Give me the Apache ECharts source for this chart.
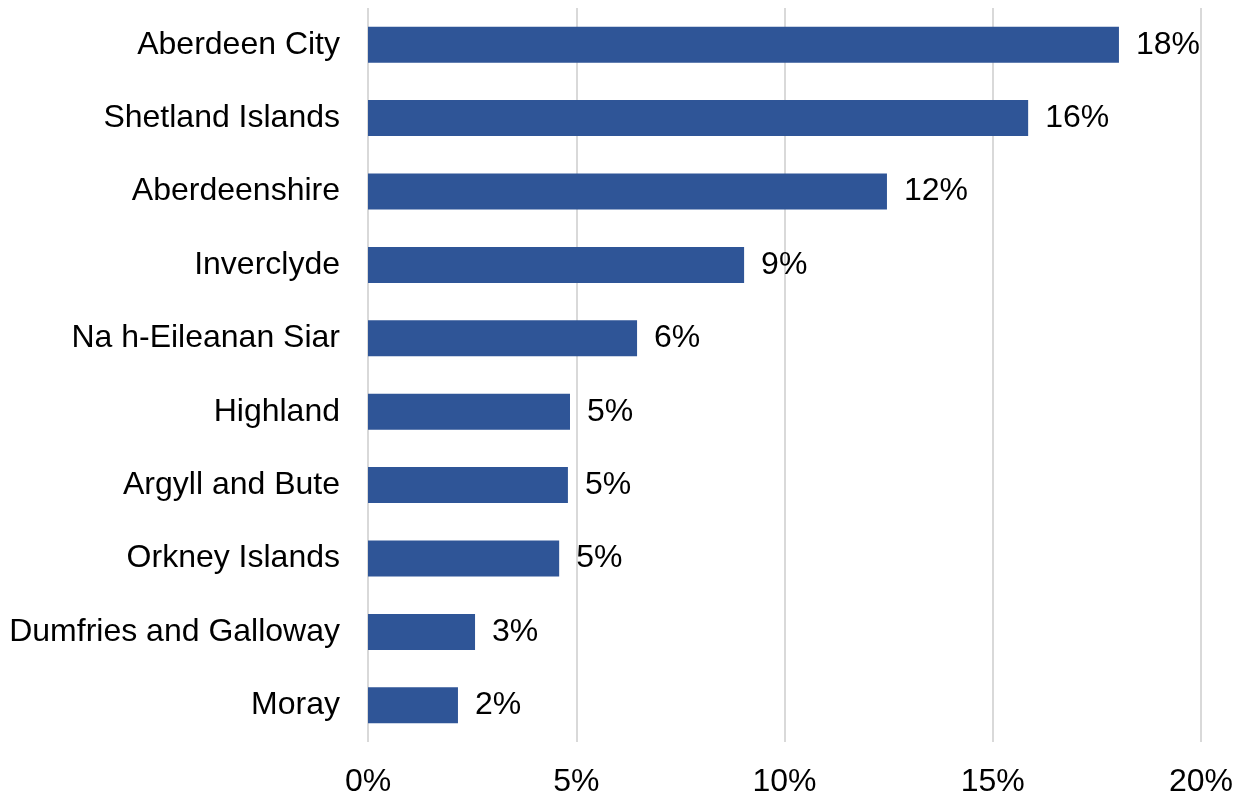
<!DOCTYPE html>
<html>
<head>
<meta charset="utf-8">
<script src="https://cdn.jsdelivr.net/npm/echarts@6/dist/echarts.min.js"></script>
<style>
html,body{margin:0;padding:0;background:#fff;}
#c{width:1243px;height:798px;}
</style>
</head>
<body>
<div id="c"></div>
<script>
const categories = ["Aberdeen City","Shetland Islands","Aberdeenshire","Inverclyde","Na h-Eileanan Siar","Highland","Argyll and Bute","Orkney Islands","Dumfries and Galloway","Moray"];
const values = [18.03, 15.85, 12.46, 9.03, 6.46, 4.85, 4.80, 4.59, 2.57, 2.16];
const tickLabels = ["0%","5%","10%","15%","20%"];

const chart = echarts.init(document.getElementById('c'));
const font = 'Liberation Sans, Arial, sans-serif';
chart.setOption({
  animation: false,
  grid: {left: 368, right: 42, top: 8, bottom: 56, containLabel: false},
  xAxis: {
    type: 'value', min: 0, max: 20, interval: 5,
    axisLine: {show: false}, axisTick: {show: false},
    splitLine: {lineStyle: {color: '#d9d9d9', width: 2}},
    axisLabel: {
      margin: 24, color: '#000', fontSize: 32, fontFamily: font,
      formatter: v => tickLabels[Math.round(v / 5)]
    }
  },
  yAxis: {
    type: 'category', data: categories, inverse: true,
    axisLine: {show: false}, axisTick: {show: false},
    axisLabel: {margin: 28, color: '#000', fontSize: 32, fontFamily: font, padding: [5, 0, 0, 0]}
  },
  series: [{
    type: 'bar', data: values, barCategoryGap: '51%',
    itemStyle: {color: '#2F5597'},
    label: {
      show: true, position: 'right', distance: 17, color: '#000',
      fontSize: 32, fontFamily: font, padding: [5, 0, 0, 0],
      formatter: p => Math.round(p.value) + '%'
    }
  }]
});
</script>
</body>
</html>
